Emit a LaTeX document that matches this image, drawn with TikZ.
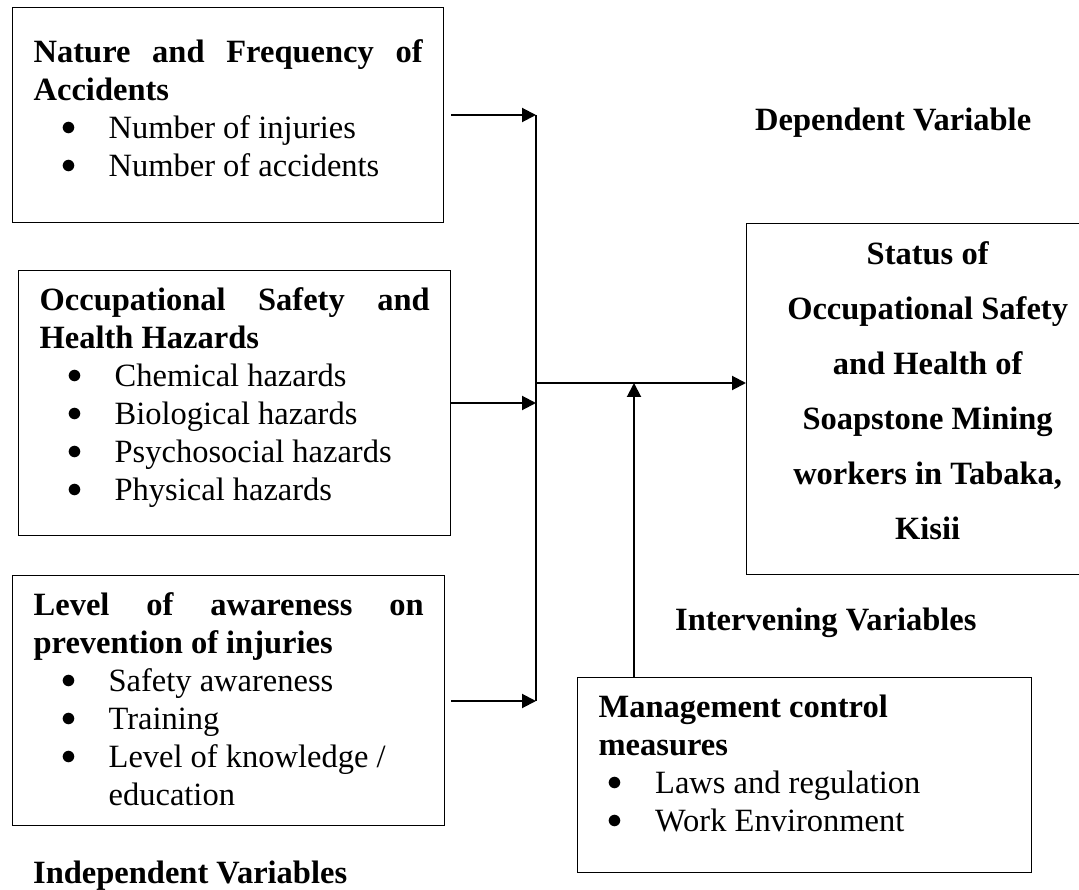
\RequirePackage{fix-cm}
\documentclass[tikz,border=0pt]{standalone}
\usepackage{fontspec}
\setmainfont{Liberation Serif}
\usetikzlibrary{arrows.meta,positioning,calc}
\newcommand{\jline}[1]{\makebox[\linewidth][s]{\spaceskip=0pt\xspaceskip=0pt\relax #1}}
\newcommand{\bul}[2][27.5pt]{\hspace*{#1}\makebox[47.5pt][l]{\raisebox{3pt}{\fontsize{30}{38}\selectfont$\bullet$}}#2}

\begin{document}
\begin{tikzpicture}[x=1pt, y=-1pt,
    varbox/.style={draw, line width=1.3pt, anchor=north west, inner xsep=21pt, inner ysep=0pt,
                   align=flush left, font=\fontsize{32.5}{38}\selectfont},
    arrow/.style={-{Triangle[length=14pt,width=14pt]}, line width=2pt},
    link/.style={line width=2pt},
    heading/.style={anchor=base west, inner sep=0pt, font=\fontsize{32.5}{38}\selectfont\bfseries},
  ]
    \useasboundingbox (0,0) rectangle (1079,890);
    \clip (0,0) rectangle (1079,890);

    % independent variables
    \node[varbox, text width=389pt, text height=55pt, text depth=160pt] (nature) at (12,7)
      {\textbf{\jline{Nature and Frequency of}}\\ \textbf{Accidents}\\
       \bul{Number of injuries}\\ \bul{Number of accidents}};
    \node[varbox, text width=390pt, text height=40pt, text depth=225pt] (hazards) at (18,270)
      {\textbf{\jline{Occupational Safety and}}\\ \textbf{Health Hazards}\\
       \bul{Chemical hazards}\\ \bul{Biological hazards}\\
       \bul{Psychosocial hazards}\\ \bul{Physical hazards}};
    \node[varbox, text width=390pt, text height=40pt, text depth=210pt] (awareness) at (12,575)
      {\textbf{\jline{Level of awareness on}}\\ \textbf{prevention of injuries}\\
       \bul{Safety awareness}\\ \bul{Training}\\
       \bul{Level of knowledge /}\\ \hspace*{75pt}education};

    % dependent and intervening variables
    \node[varbox, text width=320pt, text height=41pt, text depth=310pt, align=flush center,
          font=\fontsize{32.5}{55}\selectfont\bfseries] (status) at (746,223)
      {Status of\\ Occupational Safety\\ and Health of\\ Soapstone Mining\\
       workers in Tabaka,\\ Kisii};
    \node[varbox, text width=412pt, text height=40pt, text depth=155pt] (mgmt) at (577,677)
      {\textbf{Management control}\\ \textbf{measures}\\
       \bul[9pt]{Laws and regulation}\\ \bul[9pt]{Work Environment}};

    \node[heading] (dep)    at (755,131) {Dependent Variable};
    \node[heading] (interv) at (675,630) {Intervening Variables};
    \node[heading] (indep)  at (33,883)  {Independent Variables};

    % junction points
    \coordinate (j1)  at (536,115);
    \coordinate (j2)  at (536,403);
    \coordinate (j3)  at (536,701);
    \coordinate (jm)  at (536,383);
    \coordinate (jup) at (634,383);

    \draw[arrow, shorten <=7pt] (nature.east |- j1) -- (j1);
    \draw[arrow] (hazards.east |- j2) -- (j2);
    \draw[arrow, shorten <=6pt] (awareness.east |- j3) -- (j3);
    \draw[link] (j1) -- (j3);
    \draw[arrow] (jm) -- (jm -| status.west);
    \draw[arrow] (jup |- mgmt.north) -- (jup);
  \end{tikzpicture}
\end{document}
